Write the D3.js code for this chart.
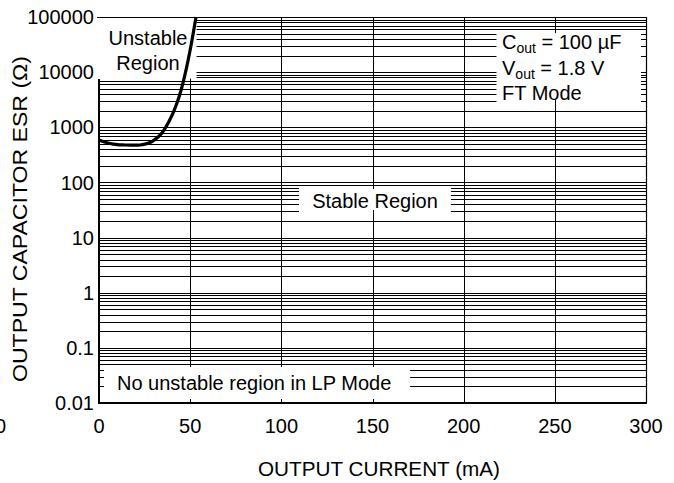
<!DOCTYPE html>
<html><head><meta charset="utf-8">
<script src="https://cdn.jsdelivr.net/npm/d3@7"></script>
<style>
html,body{margin:0;padding:0;background:#fff;}
text{font-family:"Liberation Sans",Arial,Helvetica,sans-serif;fill:#000;}
</style></head>
<body>
<svg id="c" width="674" height="483"></svg>
<script>
// ---- data ----
const xTicks = [0, 50, 100, 150, 200, 250, 300];
const xTickLabels = ["0", "50", "100", "150", "200", "250", "300"];
const strayLabel = { value: -54, text: "0" };
const yTicks = [0.01, 0.1, 1, 10, 100, 1000, 10000, 100000];
const yTickLabels = ["0.01", "0.1", "1", "10", "100", "1000", "10000", "100000"];
const curveCurrent = [0, 3, 6, 10, 14, 18, 22.5, 25.2, 28, 31, 33.5, 36, 38.5, 41, 43, 45, 46.8, 48.8, 51, 53.2];
const curveESR = [589, 540, 508, 485, 477, 474, 477, 495, 530, 610, 720, 930, 1300, 1950, 2900, 4700, 8000, 16000, 38000, 100000];
const xTitle = "OUTPUT CURRENT (mA)";
const yTitle = "OUTPUT CAPACITOR ESR (Ω)";
const legendLines = [["C", "out", " = 100 µF"], ["V", "out", " = 1.8 V"], ["FT Mode", "", ""]];
// annotation boxes in data units [x0,x1,y0,y1]
const unstableBox = [0, 53.5, 7500, 100000];
const legendBox = [218, 300, 2750, 58000];
const stableBox = [109.7, 193, 27.9, 86];
const lpBox = [0, 170.6, 0.0105, 0.045];

// ---- scales ----
const svg = d3.select("#c");
const x = d3.scaleLinear().domain([0, 300]).range([99, 646]);
const y = d3.scaleLog().domain([0.01, 100000]).range([403, 17]);

const gridVals = [];
for (let e = -2; e < 5; e++) for (let k = 1; k < 10; k++) gridVals.push(k * Math.pow(10, e));
gridVals.push(100000);

const g = svg.append("g");
g.selectAll("line.h").data(gridVals).enter().append("line")
  .attr("x1", x(0)).attr("x2", x(300))
  .attr("y1", d => Math.round(y(d)) + 0.5).attr("y2", d => Math.round(y(d)) + 0.5)
  .attr("stroke", "#000").attr("stroke-width", 1);
g.selectAll("line.v").data(xTicks.slice(1, -1)).enter().append("line")
  .attr("x1", d => Math.round(x(d)) + 0.5).attr("x2", d => Math.round(x(d)) + 0.5)
  .attr("y1", y(100000)).attr("y2", y(0.01))
  .attr("stroke", "#000").attr("stroke-width", 1);

function box(b, opts) {
  const x0 = x(b[0]), x1 = x(b[1]), y0 = y(b[3]), y1 = y(b[2]);
  g.append("rect").attr("x", x0 + (opts.padL || 0)).attr("y", y0)
    .attr("width", x1 - x0 - (opts.padL || 0))
    .attr("height", y1 - y0).attr("fill", "#fff");
  if (opts.stubs) {
    xTicks.filter(v => v > b[0] && v < b[1] && v > 0 && v < 300).forEach(v => {
      const xx = Math.round(x(v)) + 0.5;
      g.append("line").attr("x1", xx).attr("x2", xx).attr("y1", y0).attr("y2", y0 + 3).attr("stroke", "#000");
      g.append("line").attr("x1", xx).attr("x2", xx).attr("y1", y1 - 3).attr("y2", y1).attr("stroke", "#000");
    });
  }
}
box(lpBox, { padL: 1 });
box(stableBox, { stubs: true });
box(legendBox, { stubs: true });

const leftTop = y(unstableBox[2]);
g.append("line").attr("x1", x(0)).attr("x2", x(0)).attr("y1", y(0.01) + 1).attr("y2", leftTop)
  .attr("stroke", "#000").attr("stroke-width", 2);
g.append("line").attr("x1", x(0) - 1).attr("x2", x(300) + 1).attr("y1", y(0.01)).attr("y2", y(0.01))
  .attr("stroke", "#000").attr("stroke-width", 2);
g.append("line").attr("x1", Math.round(x(300)) + 0.5).attr("x2", Math.round(x(300)) + 0.5).attr("y1", y(100000)).attr("y2", y(0.01))
  .attr("stroke", "#000").attr("stroke-width", 1.2);
g.selectAll("line.lt").data(gridVals.filter(v => v < unstableBox[2])).enter().append("line")
  .attr("x1", x(0)).attr("x2", x(0) + 5)
  .attr("y1", d => Math.round(y(d)) + 0.5).attr("y2", d => Math.round(y(d)) + 0.5).attr("stroke", "#000");
g.selectAll("line.rt").data(gridVals).enter().append("line")
  .attr("x1", x(300) - 5).attr("x2", x(300))
  .attr("y1", d => Math.round(y(d)) + 0.5).attr("y2", d => Math.round(y(d)) + 0.5).attr("stroke", "#000");
g.selectAll("line.bt").data(xTicks.slice(1, -1)).enter().append("line")
  .attr("x1", d => Math.round(x(d)) + 0.5).attr("x2", d => Math.round(x(d)) + 0.5)
  .attr("y1", y(0.01) - 4).attr("y2", y(0.01)).attr("stroke", "#000");

g.append("rect").attr("x", x(unstableBox[0]) - 3).attr("y", y(unstableBox[3]) + 1)
  .attr("width", x(unstableBox[1]) - x(unstableBox[0]) + 3)
  .attr("height", y(unstableBox[2]) - y(unstableBox[3]) - 1.5).attr("fill", "#fff");
g.append("line").attr("x1", x(0) - 2).attr("x2", x(300)).attr("y1", Math.round(y(100000)) + 0.5).attr("y2", Math.round(y(100000)) + 0.5)
  .attr("stroke", "#000").attr("stroke-width", 1);

const pts = curveCurrent.map((c, i) => [c, curveESR[i]]);
g.append("path").datum(pts)
  .attr("d", d3.line().x(d => x(d[0])).y(d => y(d[1])).curve(d3.curveCatmullRom.alpha(0.5)))
  .attr("fill", "none").attr("stroke", "#000").attr("stroke-width", 3.2);

const fs = 20;
g.selectAll("text.yl").data(yTicks).enter().append("text")
  .attr("x", 94).attr("y", d => y(d)).attr("dy", "0.36em")
  .attr("text-anchor", "end").attr("font-size", fs).text((d, i) => yTickLabels[i]);
g.selectAll("text.xl").data(xTicks).enter().append("text")
  .attr("x", d => x(d)).attr("y", 433).attr("text-anchor", "middle").attr("font-size", fs)
  .text((d, i) => xTickLabels[i]);
g.append("text").attr("x", x(strayLabel.value)).attr("y", 433).attr("text-anchor", "middle")
  .attr("font-size", fs).text(strayLabel.text);

g.append("text").attr("x", 379).attr("y", 476).attr("text-anchor", "middle").attr("font-size", fs)
  .attr("textLength", 242).attr("lengthAdjust", "spacingAndGlyphs").text(xTitle);
g.append("text").attr("transform", "translate(27,219) rotate(-90)").attr("text-anchor", "middle")
  .attr("font-size", fs).attr("textLength", 326).attr("lengthAdjust", "spacingAndGlyphs").text(yTitle);

g.append("text").attr("x", 148).attr("y", 45).attr("text-anchor", "middle").attr("font-size", fs).text("Unstable");
g.append("text").attr("x", 148).attr("y", 70).attr("text-anchor", "middle").attr("font-size", fs).text("Region");
g.append("text").attr("x", 375).attr("y", 208).attr("text-anchor", "middle").attr("font-size", fs).text("Stable Region");
g.append("text").attr("x", 117).attr("y", 390).attr("text-anchor", "start").attr("font-size", fs).text("No unstable region in LP Mode");
legendLines.forEach((l, i) => {
  const t = g.append("text").attr("x", 502).attr("y", 49 + i * 25.5).attr("font-size", fs);
  t.append("tspan").text(l[0]);
  if (l[1]) t.append("tspan").attr("font-size", 14).attr("dy", 4).text(l[1]);
  if (l[2]) t.append("tspan").attr("dy", l[1] ? -4 : 0).text(l[2]);
});
</script>
</body></html>
